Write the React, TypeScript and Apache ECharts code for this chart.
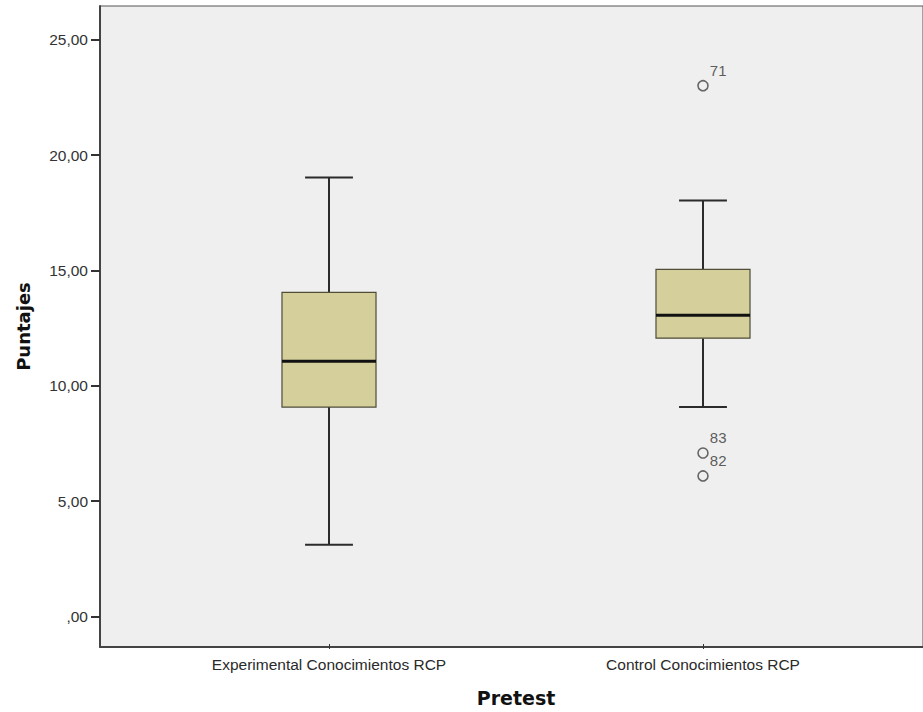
import { useEffect, useRef } from 'react';
import * as echarts from 'echarts';

const categories = ['Experimental Conocimientos RCP', 'Control Conocimientos RCP'];
const whiskerLow = [3, 9];
const q1 = [9, 12];
const median = [11, 13];
const q3 = [14, 15];
const whiskerHigh = [19, 18];
const outlierCategory = [1, 1, 1];
const outlierValue = [23, 7, 6];
const outlierCase = ['71', '83', '82'];
const yTicks = [0, 5, 10, 15, 20, 25];
const yMin = -1.32;
const yMax = 26.47;

const fmtTick = (v: number) => {
  const s = v.toFixed(2).replace('.', ',');
  return s.startsWith('0,') ? s.slice(1) : s;
};

export default function App() {
  const ref = useRef<HTMLDivElement>(null);
  useEffect(() => {
    if (!ref.current) return;
    const chart = echarts.init(ref.current, null, { renderer: 'svg' });
    const boxData = categories.map((_, i) => [i, whiskerLow[i], q1[i], median[i], q3[i], whiskerHigh[i]]);
    const outData = outlierValue.map((v, i) => ({ value: [outlierCategory[i], v], name: outlierCase[i] }));
    chart.setOption({
      animation: false,
      backgroundColor: '#ffffff',
      textStyle: { fontFamily: '"Liberation Sans", Arial, sans-serif' },
      grid: [
        { left: 100, top: 6, width: 840, bottom: 65, show: true, backgroundColor: '#efefef', borderColor: '#555', borderWidth: 1 },
        { left: 142, top: 6, width: 748, bottom: 65, show: false },
      ],
      xAxis: [
        {
          gridIndex: 0, type: 'value', min: 0, max: 1,
          axisLine: { show: true, onZero: false, lineStyle: { color: '#444', width: 2 } },
          axisTick: { show: false }, axisLabel: { show: false }, splitLine: { show: false },
        },
        {
          gridIndex: 1, type: 'category', data: categories,
          axisLine: { show: false, onZero: false },
          axisTick: { show: true, alignWithLabel: true, length: 5, lineStyle: { color: '#333', width: 1 } },
          axisLabel: { fontSize: 15.5, color: '#2a2a2a', margin: 12 },
          splitLine: { show: false },
          name: 'Pretest', nameLocation: 'middle', nameGap: 44,
          nameTextStyle: { fontFamily: '"DejaVu Sans", sans-serif', fontWeight: 'bold', fontSize: 19, color: '#111' },
        },
      ],
      yAxis: [
        {
          gridIndex: 0, type: 'value', min: yMin, max: yMax,
          axisLine: { show: true, onZero: false, lineStyle: { color: '#444', width: 2 } },
          axisTick: { show: true, customValues: yTicks, length: 9, lineStyle: { color: '#333', width: 2 } },
          axisLabel: { show: true, customValues: yTicks, formatter: (v: number) => fmtTick(v), fontSize: 15.5, color: '#333', margin: 12 },
          splitLine: { show: false },
          name: 'Puntajes', nameLocation: 'middle', nameGap: 68, nameRotate: 90,
          nameTextStyle: { fontFamily: '"DejaVu Sans", sans-serif', fontWeight: 'bold', fontSize: 18, color: '#111' },
        },
        {
          gridIndex: 1, type: 'value', min: yMin, max: yMax, show: false,
          axisLine: { onZero: false },
          splitLine: { show: false },
        },
      ],
      series: [
        {
          type: 'custom',
          xAxisIndex: 1, yAxisIndex: 1,
          data: boxData,
          renderItem: (_params: any, api: any) => {
            const c = api.value(0);
            const band = api.size([1, 0])[0];
            const half = band * 0.1257;
            const capHalf = band * 0.064;
            const pLow = api.coord([c, api.value(1)]);
            const x = pLow[0];
            const yLow = pLow[1];
            const yQ1 = api.coord([c, api.value(2)])[1];
            const yMed = api.coord([c, api.value(3)])[1];
            const yQ3 = api.coord([c, api.value(4)])[1];
            const yHigh = api.coord([c, api.value(5)])[1];
            const wStyle = { stroke: '#2b2b2b', lineWidth: 2 };
            return {
              type: 'group',
              children: [
                { type: 'line', shape: { x1: x, y1: yHigh, x2: x, y2: yQ3 }, style: wStyle },
                { type: 'line', shape: { x1: x, y1: yQ1, x2: x, y2: yLow }, style: wStyle },
                { type: 'line', shape: { x1: x - capHalf, y1: yHigh, x2: x + capHalf, y2: yHigh }, style: wStyle },
                { type: 'line', shape: { x1: x - capHalf, y1: yLow, x2: x + capHalf, y2: yLow }, style: wStyle },
                { type: 'rect', shape: { x: x - half, y: yQ3, width: 2 * half, height: yQ1 - yQ3 }, style: { fill: '#d4cf9b', stroke: '#4f4c38', lineWidth: 1.2 } },
                { type: 'line', shape: { x1: x - half, y1: yMed, x2: x + half, y2: yMed }, style: { stroke: '#111', lineWidth: 3 } },
              ],
            };
          },
        },
        {
          type: 'scatter',
          xAxisIndex: 1, yAxisIndex: 1,
          data: outData,
          symbol: 'circle',
          symbolSize: 10,
          itemStyle: { color: 'rgba(0,0,0,0)', borderColor: '#444', borderWidth: 1.6 },
          label: {
            show: true, position: 'right', distance: 1, offset: [0, -15],
            formatter: (p: any) => p.name, fontSize: 15, color: '#333',
          },
        },
      ],
    });
    return () => chart.dispose();
  }, []);
  return <div ref={ref} style={{ position: 'fixed', left: 0, top: 0, width: 923, height: 712 }} />;
}
